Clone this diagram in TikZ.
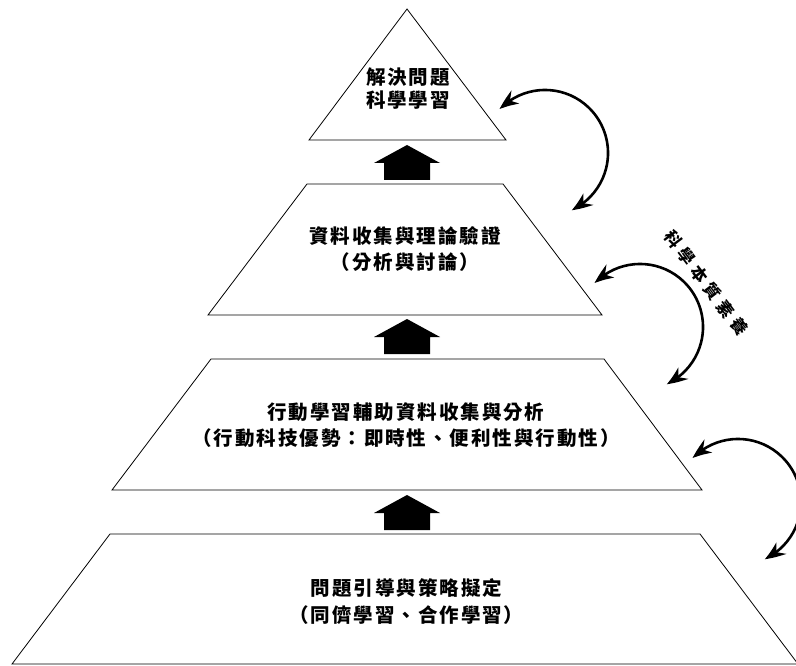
\documentclass[tikz,border=0pt]{standalone}
\usepackage{fontspec}
\newfontfamily\cjk{Noto Sans CJK TC}[LetterSpace=10]
\newfontfamily\cjkr{Noto Sans CJK TC}[LetterSpace=33]
\usetikzlibrary{arrows.meta,bending}
\begin{document}
\begin{tikzpicture}[x=1pt,y=-1pt,
  level/.style={draw=black,line width=0.8pt,line join=miter},
  lbl/.style={inner sep=0pt,align=center,font=\cjk\bfseries\fontsize{19.5pt}{26pt}\selectfont},
  blockarrow/.style={fill=black},
  curv/.style={line width=2.6pt,{Stealth[length=20pt,width=15pt,bend]}-{Stealth[length=20pt,width=15pt,bend]}}]
\clip (0,0) rectangle (796,666);
% pyramid levels
\draw[level] (407,9) -- (506,140) -- (309,140) -- cycle;
\draw[level] (307,184) -- (503,184) -- (602,315) -- (208,315) -- cycle;
\draw[level] (211,359) -- (604,359) -- (702,490) -- (112,490) -- cycle;
\draw[level] (110,534) -- (700,534) -- (798,664) -- (12,664) -- cycle;
% block arrows
\foreach \t in {145,319,495}
  \fill[blockarrow] (407,\t) -- ++(33,18) -- ++(-10,0) -- ++(0,17) -- ++(-46,0) -- ++(0,-17) -- ++(-10,0) -- cycle;
% texts
\node[lbl,font=\cjk\bfseries\fontsize{19.5pt}{23pt}\selectfont] (t1) at (408,88.5) {解決問題\\科學學習};
\node[lbl] (t2) at (405,249.5) {資料收集與理論驗證\\（分析與討論）};
\node[lbl] (t3) at (406,425.5) {行動學習輔助資料收集與分析\\（行動科技優勢：即時性、便利性與行動性）};
\node[lbl,font=\cjk\bfseries\fontsize{19.5pt}{27pt}\selectfont] (t4) at (406.5,601.5) {問題引導與策略擬定\\（同儕學習、合作學習）};
\node[inner sep=0pt,rotate=-53,font=\cjkr\bfseries\fontsize{16.5pt}{18pt}\selectfont] (sci) at (706,283) {科學本質素養};
% curved double arrows
\coordinate (aS) at (499.7,109.2);
\coordinate (bS) at (594.7,283.2);
\coordinate (cS) at (692.7,458.2);
\draw[curv] (aS) arc[start angle=-136,end angle=65,radius=63];
\draw[curv] (bS) arc[start angle=-136,end angle=65,radius=63];
\draw[curv] (cS) arc[start angle=-136,end angle=65,radius=63];
\end{tikzpicture}
\end{document}
